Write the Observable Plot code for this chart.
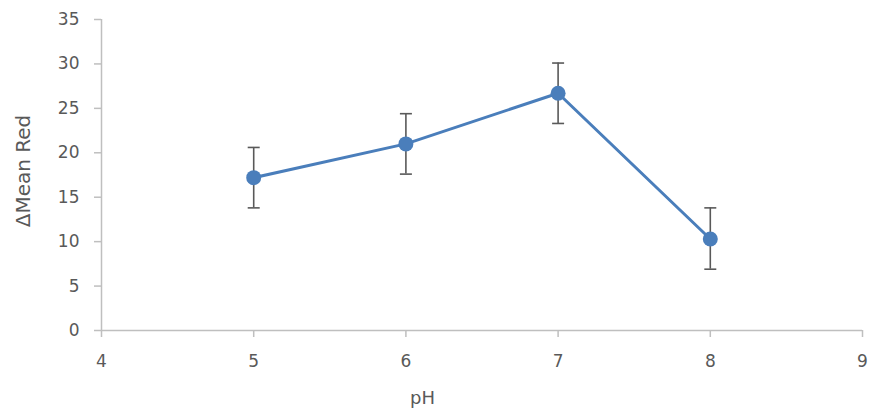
<!DOCTYPE html>
<html>
<head>
<meta charset="utf-8">
<script src="https://cdn.jsdelivr.net/npm/d3@7"></script>
<script src="https://cdn.jsdelivr.net/npm/@observablehq/plot@0.6"></script>
<style>
  html, body { margin: 0; padding: 0; background: #fff; }
  #chart { width: 870px; height: 417px; }
  #chart svg { font-family: "DejaVu Sans", "Open Sans", sans-serif; }
</style>
</head>
<body>
<div id="chart"></div>
<script>
const ph = [5, 6, 7, 8];
const meanRed = [17.2, 21.0, 26.7, 10.3];
const errLow = [13.8, 17.6, 23.3, 6.9];
const errHigh = [20.6, 24.4, 30.1, 13.8];
const xTicks = [4, 5, 6, 7, 8, 9];
const yTicks = [0, 5, 10, 15, 20, 25, 30, 35];

const data = ph.map((p, i) => ({ph: p, v: meanRed[i], lo: errLow[i], hi: errHigh[i]}));

const capSymbol = {
  draw(ctx, size) {
    const w = 6;
    ctx.moveTo(-w, 0);
    ctx.lineTo(w, 0);
  }
};

const gray = "#595959";
const axisGray = "#bfbfbf";
const fmt = d3.format("d");

const chart = Plot.plot({
  width: 870,
  height: 417,
  marginLeft: 101,
  marginRight: 8,
  marginTop: 19,
  marginBottom: 87,
  style: {color: gray, background: "#fff", overflow: "visible"},
  x: {domain: [4, 9], ticks: xTicks},
  y: {domain: [0, 35], ticks: yTicks},
  marks: [
    Plot.ruleY([0], {stroke: axisGray, strokeWidth: 1.5}),
    Plot.ruleX([4], {stroke: axisGray, strokeWidth: 1.5}),
    Plot.axisX({ticks: xTicks, tickFormat: () => "", tickSize: 7, stroke: axisGray, strokeWidth: 1.5, label: null}),
    Plot.axisY({ticks: yTicks, tickFormat: () => "", tickSize: 7, stroke: axisGray, strokeWidth: 1.5, label: null}),
    Plot.text(xTicks, {x: d => d, text: fmt, frameAnchor: "bottom", lineAnchor: "top", dy: 24, fill: gray, fontSize: 17}),
    Plot.text(yTicks, {y: d => d, text: fmt, frameAnchor: "left", textAnchor: "end", dx: -22, fill: gray, fontSize: 17}),
    Plot.text(["pH"], {frameAnchor: "bottom-left", dx: 321, dy: 73, fill: gray, textAnchor: "middle", fontSize: 18}),
    Plot.text(["ΔMean Red"], {frameAnchor: "left", dx: -78, dy: -4, rotate: -90, fill: gray, textAnchor: "middle", fontSize: 20}),
    Plot.ruleX(data, {x: "ph", y1: "lo", y2: "hi", stroke: gray, strokeWidth: 1.6}),
    Plot.dot(data, {x: "ph", y: "lo", symbol: capSymbol, stroke: gray, strokeWidth: 1.6, r: 6}),
    Plot.dot(data, {x: "ph", y: "hi", symbol: capSymbol, stroke: gray, strokeWidth: 1.6, r: 6}),
    Plot.line(data, {x: "ph", y: "v", stroke: "#4a7ebb", strokeWidth: 3}),
    Plot.dot(data, {x: "ph", y: "v", fill: "#4a7ebb", r: 7.5})
  ]
});

document.getElementById("chart").appendChild(chart);
</script>
</body>
</html>
